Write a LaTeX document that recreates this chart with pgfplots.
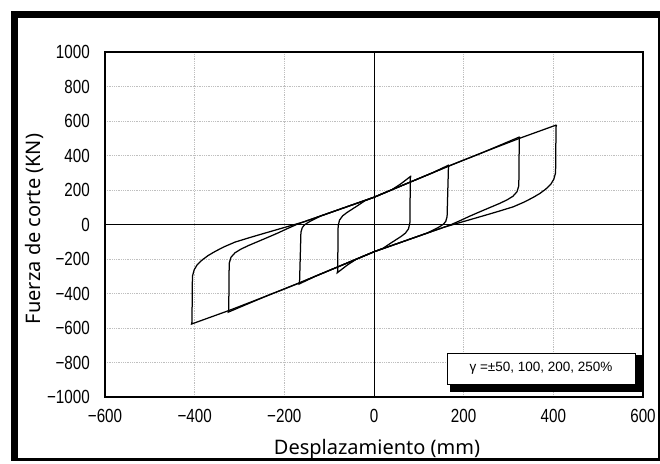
\documentclass[border=0pt]{standalone}
\usepackage{pgfplots}
\pgfplotsset{compat=1.18}
\usepackage{fontspec}
\setmainfont{Noto Sans}
\newfontfamily\tickfont[FakeStretch=0.8]{Liberation Sans}
\newfontfamily\legfont{Liberation Sans}
\begin{document}
\begin{tikzpicture}[x=1pt,y=1pt]
\useasboundingbox (0,0) rectangle (660,463);
\fill[white] (0,0) rectangle (660,463);
% outer frame
\fill[black] (11,2) rectangle (18,452);
\fill[black] (11,445) rectangle (660,452);
\fill[black] (658,2) rectangle (660,452);
\fill[black] (11,2) rectangle (660,5);
\begin{axis}[at={(105pt,66pt)}, anchor=south west, scale only axis,
  width=538pt, height=345pt,
  xmin=-600, xmax=600, ymin=-1000, ymax=1000,
  xtick={-600,-400,-200,0,200,400,600},
  ytick={-1000,-800,-600,-400,-200,0,200,400,600,800,1000},
  xticklabels={−600,−400,−200,0,200,400,600},
  yticklabels={−1000,−800,−600,−400,−200,0,200,400,600,800,1000},
  major tick length=0pt,
  grid=major,
  major grid style={gray!50, line width=0.8pt, dash pattern=on 1pt off 0.8pt},
  axis line style={line width=1.6pt},
  ticklabel style={font=\tickfont\fontsize{19}{19}\selectfont, inner sep=0pt, fill=white},
  xticklabel style={yshift=-12pt},
  yticklabel style={xshift=-15pt},
]
\draw[black, line width=1pt] (axis cs:0,-1000) -- (axis cs:0,1000);
\draw[black, line width=1pt] (axis cs:-600,0) -- (axis cs:600,0);
% 50%
\addplot[black, line width=1.25pt, mark=none] coordinates {
(82,283) (81,268) (80,10) (77,-25) (70,-50) (60,-70) (48,-90) (35,-112) (20,-138) (0,-158) (-40,-202) (-60,-236) (-82,-280)
(-81,-268) (-80,-10) (-77,25) (-70,50) (-60,70) (-48,90) (-35,112) (-20,138) (0,158) (40,202) (60,236) (82,280) (82,283)};
% 100%
\addplot[black, line width=1.25pt, mark=none] coordinates {
(167,345) (166,330) (163,45) (160,18) (155,2) (148,-10) (140,-22) (120,-48) (80,-85) (0,-158) (-80,-245) (-130,-299) (-167,-345)
(-166,-330) (-163,-45) (-160,-18) (-155,-2) (-148,10) (-140,22) (-120,48) (-80,85) (0,158) (80,245) (130,299) (167,345)};
% 200%
\addplot[black, line width=1.25pt, mark=none] coordinates {
(325,508) (324,495) (323,225) (319,190) (310,164) (297,143) (280,122) (260,100) (240,78) (215,50) (190,20) (170,-3) (157,-15) (80,-85) (0,-158) (-80,-245) (-165,-337) (-245,-420) (-325,-508)
(-324,-495) (-323,-225) (-319,-190) (-310,-164) (-297,-143) (-280,-122) (-260,-100) (-240,-78) (-215,-50) (-190,-20) (-170,3) (-157,15) (-80,85) (0,158) (80,245) (165,337) (245,420) (325,508)};
% 250%
\addplot[black, line width=1.25pt, mark=none] coordinates {
(407,577) (406,565) (405,300) (401,262) (394,232) (383,205) (370,180) (355,157) (335,130) (310,102) (280,78) (250,55) (157,-15) (80,-85) (0,-158) (-80,-245) (-165,-337) (-245,-420) (-325,-500) (-407,-577)
(-406,-565) (-405,-300) (-401,-262) (-394,-232) (-383,-205) (-370,-180) (-355,-157) (-335,-130) (-310,-102) (-280,-78) (-250,-55) (-157,15) (-80,85) (0,158) (80,245) (165,337) (245,420) (325,500) (407,577)};
\end{axis}
% axis titles
\node[rotate=90, anchor=base, font=\fontsize{20}{20}\selectfont, inner sep=0pt] at (40,234) {Fuerza de corte (KN)};
\node[anchor=base, font=\fontsize{20}{20}\selectfont, inner sep=0pt] at (377,9) {Desplazamiento (mm)};
% annotation box
\fill[black] (450,71) rectangle (642,108);
\draw[fill=white, line width=0.8pt] (447,79) rectangle (635,110);
\node[font=\legfont\fontsize{13.5}{13.5}\selectfont] at (541,94.5) {γ =±50, 100, 200, 250\%};
\end{tikzpicture}
\end{document}
